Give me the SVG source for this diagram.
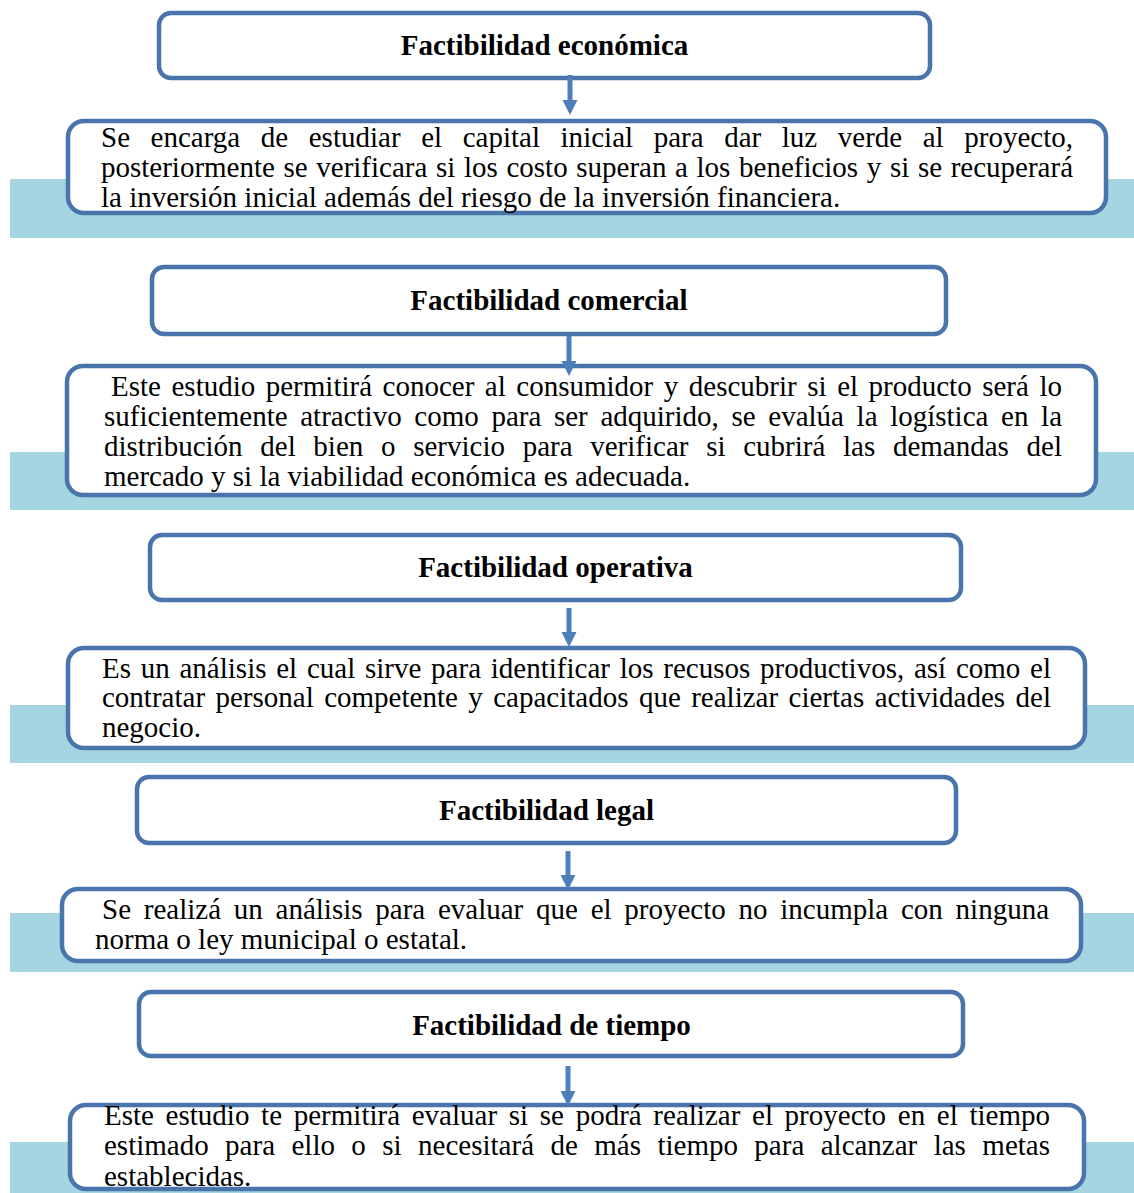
<svg xmlns="http://www.w3.org/2000/svg" width="1134" height="1193" viewBox="0 0 1134 1193">
<style>
.band{fill:#A5D5E1}
.box{fill:#fff;stroke:#4A75AC;stroke-width:4.5}
.t{font-family:"Liberation Serif","Times New Roman",serif;font-size:29px;font-weight:bold;fill:#000;text-anchor:middle}
.d{font-family:"Liberation Serif","Times New Roman",serif;font-size:29px;fill:#000}
.arr{fill:#4F7FBA}
</style>
<rect width="1134" height="1193" fill="#fff"/>
<g id="bands">
<rect class="band" x="10" y="179" width="1124" height="59"/>
<rect class="band" x="10" y="452" width="1124" height="58"/>
<rect class="band" x="10" y="705" width="1124" height="58"/>
<rect class="band" x="10" y="913" width="1124" height="59"/>
<rect class="band" x="10" y="1142" width="1124" height="51"/>
</g>
<g id="n1">
<rect class="box" x="159" y="13" width="771" height="65" rx="12"/>
<text class="t" x="544.5" y="55">Factibilidad económica</text>
</g>
<g id="n1d">
<rect class="box" x="68" y="121" width="1038" height="92" rx="16"/>
<text class="d" x="101" y="147" word-spacing="13.3" textLength="972" lengthAdjust="spacing">Se encarga de estudiar el capital inicial para dar luz verde al proyecto,</text>
<text class="d" x="101" y="177" word-spacing="1.4" textLength="972" lengthAdjust="spacing">posteriormente se verificara si los costo superan a los beneficios y si se recuperará</text>
<text class="d" x="101" y="207">la inversión inicial además del riesgo de la inversión financiera.</text>
</g>
<g id="n2">
<rect class="box" x="152" y="267" width="794" height="67" rx="12"/>
<text class="t" x="549" y="310">Factibilidad comercial</text>
</g>
<g id="n2d">
<rect class="box" x="67" y="366" width="1029" height="129" rx="16"/>
<text class="d" x="111" y="396" word-spacing="3.3" textLength="951" lengthAdjust="spacing">Este estudio permitirá conocer al consumidor y descubrir si el producto será lo</text>
<text class="d" x="104" y="426" word-spacing="5.4" textLength="958" lengthAdjust="spacing">suficientemente atractivo como para ser adquirido, se evalúa la logística en la</text>
<text class="d" x="104" y="456" word-spacing="10.4" textLength="958" lengthAdjust="spacing">distribución del bien o servicio para verificar si cubrirá las demandas del</text>
<text class="d" x="104" y="486">mercado y si la viabilidad económica es adecuada.</text>
</g>
<g id="n3">
<rect class="box" x="150" y="535" width="811" height="65" rx="12"/>
<text class="t" x="555.5" y="577">Factibilidad operativa</text>
</g>
<g id="n3d">
<rect class="box" x="68" y="648" width="1017" height="100" rx="16"/>
<text class="d" x="102" y="678" word-spacing="2.5" textLength="949" lengthAdjust="spacing">Es un análisis el cual sirve para identificar los recusos productivos, así como el</text>
<text class="d" x="102" y="707" word-spacing="3.2" textLength="949" lengthAdjust="spacing">contratar personal competente y capacitados que realizar ciertas actividades del</text>
<text class="d" x="102" y="737">negocio.</text>
</g>
<g id="n4">
<rect class="box" x="137" y="777" width="819" height="66" rx="12"/>
<text class="t" x="546.5" y="820">Factibilidad legal</text>
</g>
<g id="n4d">
<rect class="box" x="62" y="889" width="1019" height="72" rx="16"/>
<text class="d" x="102" y="919" word-spacing="5.5" textLength="947" lengthAdjust="spacing">Se realizá un análisis para evaluar que el proyecto no incumpla con ninguna</text>
<text class="d" x="95" y="949">norma o ley municipal o estatal.</text>
</g>
<g id="n5">
<rect class="box" x="139" y="992" width="824" height="64" rx="12"/>
<text class="t" x="551.5" y="1035">Factibilidad de tiempo</text>
</g>
<g id="n5d">
<rect class="box" x="70" y="1105" width="1014" height="84" rx="16"/>
<text class="d" x="104" y="1125" word-spacing="4.4" textLength="946" lengthAdjust="spacing">Este estudio te permitirá evaluar si se podrá realizar el proyecto en el tiempo</text>
<text class="d" x="104" y="1155" word-spacing="9.2" textLength="946" lengthAdjust="spacing">estimado para ello o si necesitará de más tiempo para alcanzar las metas</text>
<text class="d" x="104" y="1186">establecidas.</text>
</g>
<g id="connectors">
<path class="arr" d="M567.5 75 H572.5 V100 H577.5 L570 115 L562.5 100 H567.5 Z"/>
<path class="arr" d="M566.5 336 H571.5 V361 H576.5 L569 376 L561.5 361 H566.5 Z"/>
<path class="arr" d="M566.5 608 H571.5 V632 H576.5 L569 647 L561.5 632 H566.5 Z"/>
<path class="arr" d="M565.5 851 H570.5 V875 H575.5 L568 890 L560.5 875 H565.5 Z"/>
<path class="arr" d="M565.5 1066 H570.5 V1091 H575.5 L568 1106 L560.5 1091 H565.5 Z"/>
</g>
</svg>
